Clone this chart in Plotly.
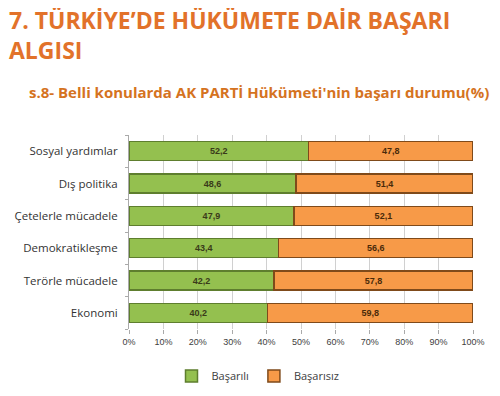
import plotly.graph_objects as go

categories = ["Sosyal yardımlar", "Dış politika", "Çetelerle mücadele",
              "Demokratikleşme", "Terörle mücadele", "Ekonomi"]
basarili = [52.2, 48.6, 47.9, 43.4, 42.2, 40.2]
basarisiz = [47.8, 51.4, 52.1, 56.6, 57.8, 59.8]
tick_vals = [0, 10, 20, 30, 40, 50, 60, 70, 80, 90, 100]
tick_text = [f"{v}%" for v in tick_vals]

def fmt(v):
    return f"{v:.1f}".replace(".", ",")

W, H = 500, 396
L, R, T, B = 121, 35, 127, 75
plot_w = W - L - R
plot_h = H - T - B

def px_x(px):
    return (px - L) / plot_w

def px_y(py):
    return (H - B - py) / plot_h

fig = go.Figure()
fig.add_trace(go.Bar(
    y=categories, x=basarili, orientation="h", name="Başarılı",
    marker=dict(color="#94C04F", line=dict(color="#5E7E2E", width=1.5)),
    text=[f"<b>{fmt(v)}</b>" for v in basarili], textposition="inside",
    insidetextanchor="middle",
    textfont=dict(size=9, color="#3A3A1A", family="Liberation Sans"),
))
fig.add_trace(go.Bar(
    y=categories, x=basarisiz, orientation="h", name="Başarısız",
    marker=dict(color="#F79A48", line=dict(color="#7F4A1A", width=1.5)),
    text=[f"<b>{fmt(v)}</b>" for v in basarisiz], textposition="inside",
    insidetextanchor="middle",
    textfont=dict(size=9, color="#4A2A0A", family="Liberation Sans"),
))

fig.update_layout(
    width=W, height=H,
    barmode="stack", bargap=0.41,
    plot_bgcolor="white", paper_bgcolor="white",
    margin=dict(l=L, r=R, t=T, b=B, autoexpand=False),
    showlegend=True,
    legend=dict(orientation="h", x=px_x(250), xanchor="center",
                y=px_y(368), yanchor="middle",
                font=dict(size=11, color="#404040", family="Open Sans"),
                itemwidth=30, traceorder="normal"),
    xaxis=dict(range=[0, 100], tickvals=tick_vals, ticktext=tick_text,
               showgrid=True, gridcolor="#D0D0D0", gridwidth=1,
               tickfont=dict(size=9, color="#404040", family="Liberation Sans"),
               zeroline=False, ticks="outside", ticklen=4, tickcolor="#AAAAAA",
               showline=False, automargin=False),
    yaxis=dict(categoryorder="array", categoryarray=categories[::-1],
               tickfont=dict(size=11.5, color="#333333", family="Open Sans"),
               showline=True, linecolor="#AAAAAA",
               ticks="outside", tickson="boundaries", ticklen=3,
               tickcolor="#AAAAAA", ticklabelstandoff=8, automargin=False),
    font=dict(family="Open Sans"),
    annotations=[
        dict(text="<b>7. TÜRKİYE’DE HÜKÜMETE DAİR BAŞARI<br>ALGISI</b>",
             x=px_x(0), y=px_y(-5), xref="paper", yref="paper",
             showarrow=False, align="left", xanchor="left", yanchor="top",
             borderpad=0,
             font=dict(size=23, color="#E2722A", family="Open Sans")),
        dict(text="<b>s.8- Belli konularda AK PARTİ Hükümeti'nin başarı durumu(%)</b>",
             x=px_x(19), y=px_y(84), xref="paper", yref="paper",
             showarrow=False, xanchor="left", yanchor="middle",
             font=dict(size=15, color="#D5731F", family="Open Sans")),
    ],
)

fig.write_html("out.html")
